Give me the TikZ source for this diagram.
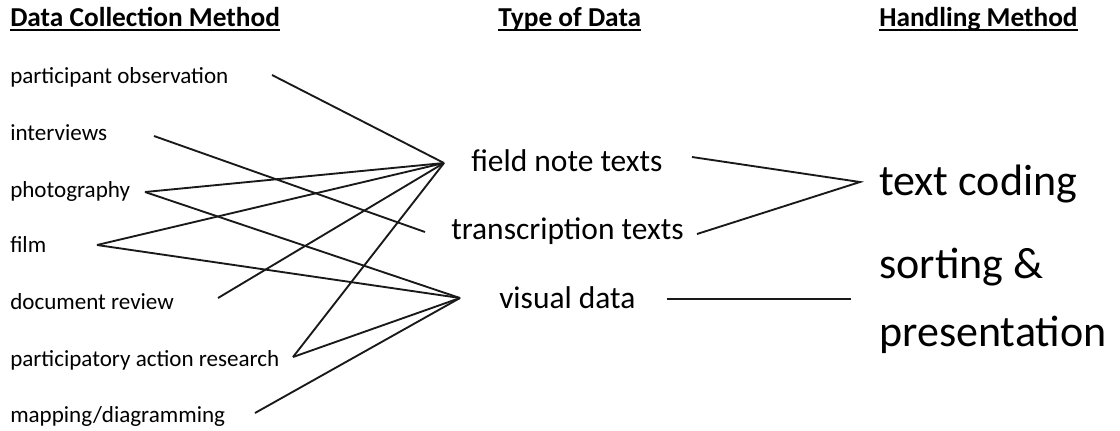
\documentclass[tikz,border=0pt]{standalone}
\usepackage{fontspec}
\setmainfont{Carlito}
\usepackage{tikz}

\newcommand{\headline}[1]{\setbox0\hbox{#1}\rlap{\rule[-3.6pt]{\wd0}{1.3pt}}\box0}

\tikzset{
  method/.style={anchor=base west, inner sep=0.75pt, font=\fontsize{17.3}{20}\selectfont},
  datatype/.style={anchor=base west, inner sep=0.75pt, font=\fontsize{23.6}{28}\selectfont},
  handling/.style={anchor=base west, inner sep=0.75pt, font=\fontsize{33}{40}\selectfont},
  heading/.style={anchor=base west, inner sep=0.75pt, font=\fontsize{20.5}{24}\selectfont\bfseries},
  link/.style={line width=1.4pt, black!90}
}

\begin{document}
\begin{tikzpicture}[x=0.75pt,y=0.75pt,yscale=-1,xscale=1]
    \useasboundingbox (0,0) rectangle (1120,430);

    %Headings
    \node [heading] (hcol) at (9,26) {\headline{Data Collection Method}};
    \node [heading] (htype) at (497,26) {\headline{Type of Data}};
    \node [heading] (hhand) at (878,26) {\headline{Handling Method}};

    %Text Nodes: collection methods
    \node [method] (obs) at (9,83) {participant observation};
    \node [method] (intv) at (9,140) {interviews};
    \node [method] (photo) at (9,197) {photography};
    \node [method] (film) at (9,252) {film};
    \node [method] (docs) at (9,309) {document review};
    \node [method] (par) at (9,366) {participatory action research};
    \node [method] (map) at (9,422) {mapping/diagramming};

    %Text Nodes: types of data
    \node [datatype] (field) at (470,171) {field note texts};
    \node [datatype] (trans) at (450,239) {transcription texts};
    \node [datatype] (visual) at (498,308) {visual data};

    %Text Nodes: handling
    \node [handling] (coding) at (878,195) {text coding};
    \node [handling] (sorting) at (878,278) {sorting \&};
    \node [handling] (present) at (878,346) {presentation};

    %Line ends
    \coordinate (obs-r) at (272,75);
    \coordinate (intv-r) at (154,136);
    \coordinate (photo-r) at (145,192);
    \coordinate (film-r) at (97,245);
    \coordinate (docs-r) at (218,298);
    \coordinate (par-r) at (293,357);
    \coordinate (map-r) at (255,413);
    \coordinate (field-l) at (444,163);
    \coordinate (trans-l) at (425,232);
    \coordinate (visual-l) at (460,298);
    \coordinate (field-r) at (692,157);
    \coordinate (trans-r) at (697,234);
    \coordinate (visual-r) at (667,299);
    \coordinate (coding-l) at (860,182);
    \coordinate (sorting-l) at (851,299);

    %Straight Lines
    \draw [link] (obs-r) -- (field-l);
    \draw [link] (intv-r) -- (trans-l);
    \draw [link] (photo-r) -- (field-l);
    \draw [link] (photo-r) -- (visual-l);
    \draw [link] (film-r) -- (field-l);
    \draw [link] (film-r) -- (visual-l);
    \draw [link] (docs-r) -- (field-l);
    \draw [link] (par-r) -- (field-l);
    \draw [link] (par-r) -- (visual-l);
    \draw [link] (map-r) -- (visual-l);

    %Straight Lines
    \draw [link] (field-r) -- (coding-l) -- (trans-r);
    \draw [link] (visual-r) -- (sorting-l);

\end{tikzpicture}
\end{document}
